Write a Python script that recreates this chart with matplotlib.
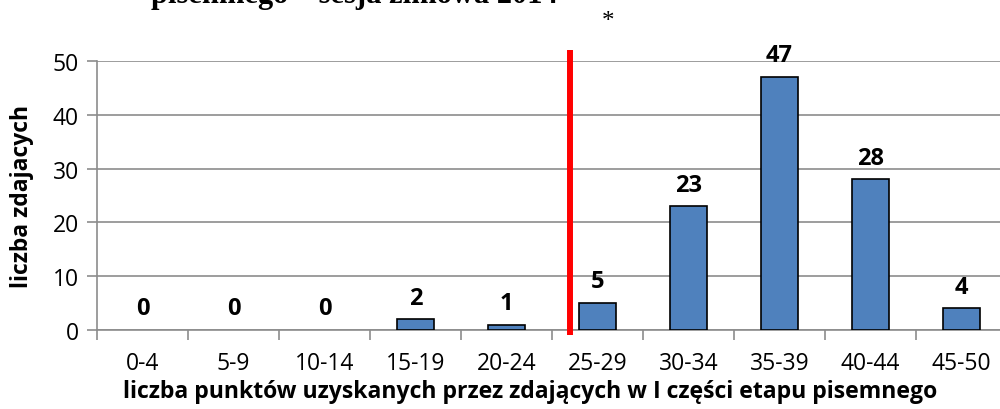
import matplotlib
matplotlib.use("Agg")
import matplotlib.pyplot as plt
import numpy as np

categories = ["0-4", "5-9", "10-14", "15-19", "20-24", "25-29", "30-34", "35-39", "40-44", "45-50"]
counts = [0, 0, 0, 2, 1, 5, 23, 47, 28, 4]
y_ticks = [0, 10, 20, 30, 40, 50]
threshold_pos = 4.7  # red line between 20-24 and 25-29

title_text = "pisemnego – sesja zimowa 2014"
xlabel_text = "liczba punktów uzyskanych przez zdających w I części etapu pisemnego"
ylabel_text = "liczba zdajacych"

FONT = ["Open Sans", "DejaVu Sans"]
plt.rcParams['font.family'] = FONT

fig = plt.figure(figsize=(10, 4.1), dpi=100)
ax = fig.add_axes([0.097, 1 - 331 / 410, 0.91, (331 - 62) / 410])

x = np.arange(len(categories))
grid_c = "#8c8c8c"

lws = [1.2 if v > 0 else 0 for v in counts]
ax.bar(x, counts, width=0.41, color="#4F81BD", edgecolor="black", linewidth=lws, zorder=3)

for xi, v in zip(x, counts):
    ax.annotate(str(v), (xi, v), xytext=(0, 7), textcoords="offset points",
                ha="center", va="bottom", fontsize=17, fontweight="bold", zorder=4)

ax.set_xlim(-0.5, len(categories) - 0.5)
ax.set_ylim(0, 50)
ax.set_yticks(y_ticks)
ax.yaxis.grid(True, color=grid_c, linewidth=1.2, zorder=0)
ax.set_axisbelow(True)

ax.set_xticks(x)
ax.set_xticklabels(categories)
ax.set_xticks(np.arange(-0.5, len(categories), 1), minor=True)
ax.tick_params(axis="x", which="major", length=0, pad=15, labelsize=16.5)
ax.tick_params(axis="x", which="minor", length=7, width=1.2, color=grid_c, direction="out")
ax.tick_params(axis="y", length=7, width=1.2, color=grid_c, pad=6, labelsize=16.5)

for s in ["top", "right"]:
    ax.spines[s].set_visible(False)
for s in ["left", "bottom"]:
    ax.spines[s].set_color(grid_c)
    ax.spines[s].set_linewidth(1.2)

ax.plot([threshold_pos, threshold_pos], [-0.9, 52.0], color="#ff0000", linewidth=4.3,
        clip_on=False, zorder=5, solid_capstyle="butt")

fig.text(0.022, 1 - 196 / 410, ylabel_text, rotation=90, ha="center", va="center",
         fontsize=16.5, fontweight="bold")
fig.text(0.53, 1 - 392 / 410, xlabel_text, ha="center", va="center",
         fontsize=16.6, fontweight="bold")

fig.text(0.354, 1 - 3 / 410, title_text, ha="center", va="baseline",
         fontsize=22, fontweight="bold", family=["Liberation Serif", "DejaVu Serif"])
fig.text(0.608, 1 - 22 / 410, "*", ha="center", va="center",
         fontsize=18, family=["Liberation Serif", "DejaVu Serif"])

fig.savefig("out.png", dpi=100)
